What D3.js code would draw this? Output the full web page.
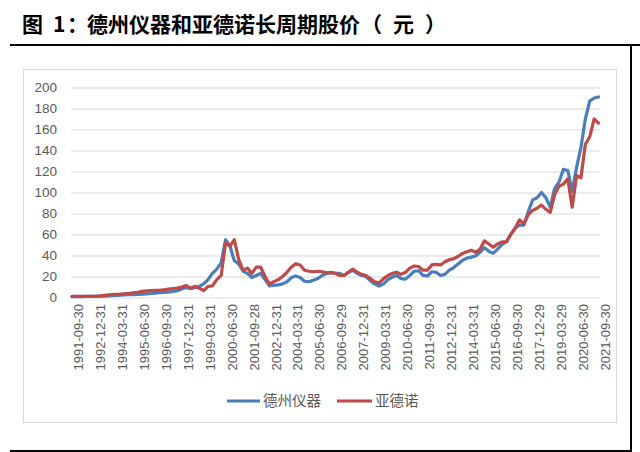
<!DOCTYPE html>
<html><head><meta charset="utf-8">
<script src="https://cdn.jsdelivr.net/npm/d3@7/dist/d3.min.js"></script>
<style>body{margin:0;background:#fff}svg{display:block}</style>
</head><body>
<svg id="c" width="640" height="452"></svg>
<script>
// Tick labels (every 5th quarter)
const tickLabels = ["1991-09-30","1992-12-31","1994-03-31","1995-06-30","1996-09-30","1997-12-31","1999-03-31","2000-06-30","2001-09-28","2002-12-31","2004-03-31","2005-06-30","2006-09-29","2007-12-31","2009-03-31","2010-06-30","2011-09-30","2012-12-31","2014-03-31","2015-06-30","2016-09-30","2017-12-29","2019-03-29","2020-06-30","2021-09-30"];
// Quarterly categories 1991Q3 .. 2021Q3 (121 quarters)
const categories = [];
for (let y = 1991, q = 3; categories.length < 121; ) { categories.push(y + "Q" + q); q++; if (q > 4) { q = 1; y++; } }
const yTicks = [0,20,40,60,80,100,120,140,160,180,200];
const seriesNames = ["德州仪器","亚德诺"];
// 德州仪器 (TXN) quarterly close
const txn = [0.8,0.9,0.9,1.0,1.1,1.2,1.3,1.4,1.6,1.8,2.0,2.2,2.4,2.6,2.8,3.0,3.2,3.5,3.8,4.2,4.5,4.8,5.0,5.8,6.5,8.0,9.5,8.5,9.5,10.5,13,17,23,27,33,55,49,35,32,25,23,19,21,23,17,11,11.5,12,13,15,19,20.5,19,15.5,15,16.5,18,21,23,23.5,23,23,21,24,26,23,21,20,16,13,11,13,17,19.5,21,18,17.5,21,25,25.5,21,20.5,24.5,24,21,22,26,28.5,32,35.5,37.5,38.5,39.5,43,47.5,44,42,46,50.5,53,60,66,69,69,82,93,95,100,95,86,104,110,122,121,101,124,143,170,187,190,191];
// 亚德诺 (ADI) quarterly close
const adi = [1.0,1.0,1.1,1.1,1.2,1.2,1.3,1.8,2.3,2.7,3.0,3.2,3.6,4.0,4.5,5.0,5.8,6.3,6.5,6.7,6.8,7.4,8.0,8.6,9.0,10.0,11.5,9.0,10.5,9.0,6.5,10.5,11,17,21,52,49,55,36,26,28,23,29,29,20,13,15,17,20,24,29,32,31,26,25,24.5,25,24.5,23.5,24,23,21,21,24,27,24,22,21,18,15,14,18,21,23,24,22,24,28,30,29.5,26,26,31,31.5,31,34,36,37,39,42,43.5,45,43,46,54,51,48,51,53,53,60,66,74,70,79,83,85,88,84,81,98,106,108,113,86,116,114,146,153,170,166];

const svg = d3.select("#c");
const FONT = "'Liberation Sans', Arial, sans-serif";
const CJK = "'Noto Sans CJK SC', sans-serif";

// Title
const title = svg.append("text").attr("y", 32).attr("font-family", CJK).attr("font-weight", "bold").attr("font-size", 21).attr("fill", "#000");
title.append("tspan").attr("x", 22).text("图");
title.append("tspan").attr("x", 53).text("1");
title.append("tspan").attr("x", 67).text("：");
title.append("tspan").attr("x", 87).text("德州仪器和亚德诺长周期股价");
title.append("tspan").attr("x", 361).text("（");
title.append("tspan").attr("x", 393).text("元");
title.append("tspan").attr("x", 425).text("）");

// Black frame lines
svg.append("line").attr("x1", 10).attr("x2", 640).attr("y1", 45).attr("y2", 45).attr("stroke", "#000").attr("stroke-width", 2);
svg.append("line").attr("x1", 631).attr("x2", 631).attr("y1", 45).attr("y2", 452).attr("stroke", "#000").attr("stroke-width", 2);
svg.append("line").attr("x1", 10).attr("x2", 632).attr("y1", 451).attr("y2", 451).attr("stroke", "#000").attr("stroke-width", 2);

// Chart area border
svg.append("rect").attr("x", 23.5).attr("y", 69.5).attr("width", 593).attr("height", 353).attr("fill", "none").attr("stroke", "#d9d9d9").attr("stroke-width", 1);

const x = d3.scalePoint().domain(categories).range([72, 598.5]);
const y = d3.scaleLinear().domain([0, 200]).range([297.5, 87.5]);

// Gridlines + y labels
const yAxis = d3.axisLeft(y).tickValues(yTicks).tickSize(-(600 - 71)).tickPadding(14);
const gy = svg.append("g").attr("transform", "translate(71,0)").call(yAxis);
gy.select(".domain").remove();
gy.selectAll(".tick line").attr("stroke", "#d9d9d9").attr("stroke-width", 1);
gy.selectAll(".tick text").attr("font-family", FONT).attr("font-size", 13.5).attr("fill", "#595959");

// X labels (rotated)
const tickCats = tickLabels.map((d, k) => categories[k * 5]);
const xAxis = d3.axisBottom(x).tickValues(tickCats).tickSize(0).tickFormat((d, k) => tickLabels[k]);
const gx = svg.append("g").attr("transform", "translate(6,304)").call(xAxis);
gx.select(".domain").remove();
gx.selectAll(".tick text").attr("font-family", FONT).attr("font-size", 13).attr("fill", "#595959")
  .attr("text-anchor", "end").attr("transform", "rotate(-90)").attr("x", 0).attr("y", 0).attr("dy", "0.35em");

// Lines
const colors = ["#4A7EBB", "#BE4B48"];
const line = d3.line().x((d, i) => x(categories[i])).y(d => y(d)).curve(d3.curveLinear);
[txn, adi].forEach((s, k) => {
  svg.append("path").datum(s).attr("d", line).attr("fill", "none").attr("stroke", colors[k])
    .attr("stroke-width", 3.2).attr("stroke-linejoin", "round").attr("stroke-linecap", "round");
});

// Legend
const leg = [{x1: 227, x2: 260, tx: 263}, {x1: 337, x2: 372, tx: 375}];
leg.forEach((l, k) => {
  svg.append("line").attr("x1", l.x1).attr("x2", l.x2).attr("y1", 401).attr("y2", 401).attr("stroke", colors[k]).attr("stroke-width", 3.2);
  svg.append("text").attr("x", l.tx).attr("y", 401).attr("dy", "0.35em").attr("font-family", CJK).attr("font-size", 14.5).attr("fill", "#595959").text(seriesNames[k]);
});
</script>
</body></html>
